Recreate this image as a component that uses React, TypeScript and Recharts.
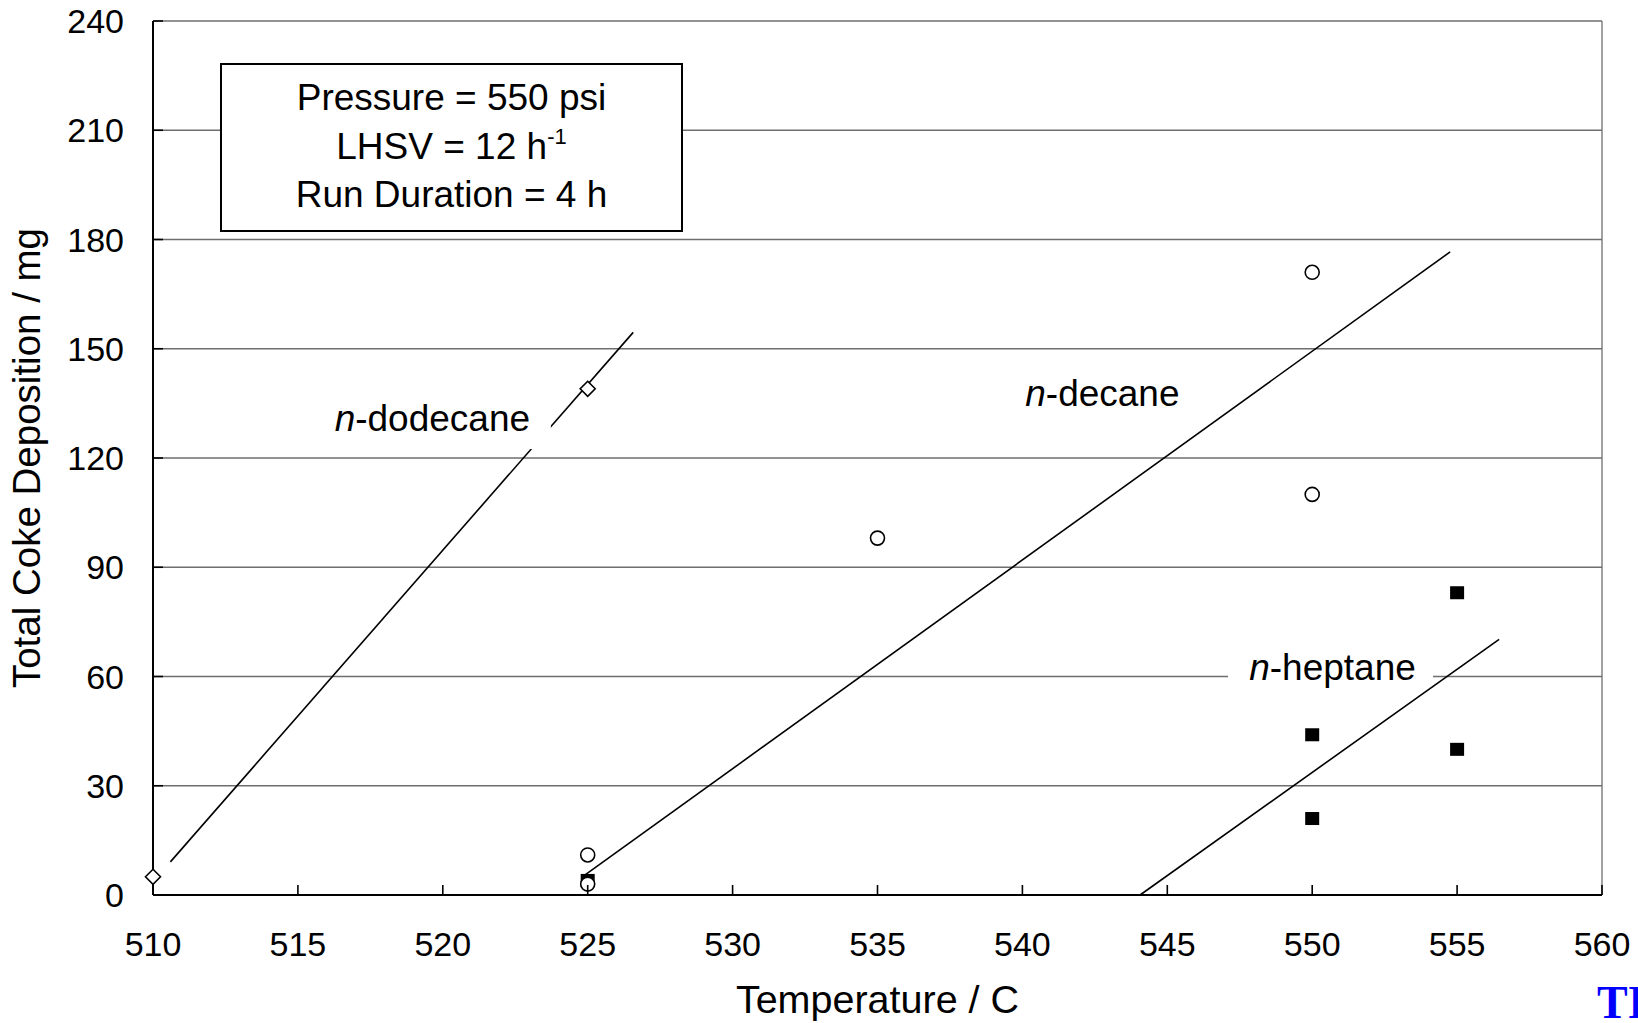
import React from 'react';
import { ScatterChart, Scatter, XAxis, YAxis, CartesianGrid, ReferenceLine } from 'recharts';

// ---- data ----
const xTicks = [510, 515, 520, 525, 530, 535, 540, 545, 550, 555, 560];
const yTicks = [0, 30, 60, 90, 120, 150, 180, 210, 240];

const dodecanePoints = [
  { x: 510, y: 5 },
  { x: 525, y: 139 },
];
const decanePoints = [
  { x: 525, y: 11 },
  { x: 525, y: 3 },
  { x: 535, y: 98 },
  { x: 550, y: 171 },
  { x: 550, y: 110 },
];
const heptanePoints = [
  { x: 525, y: 4 },
  { x: 550, y: 44 },
  { x: 550, y: 21 },
  { x: 555, y: 83 },
  { x: 555, y: 40 },
];

const dodecaneFit = [
  { x: 510.6, y: 9.1 },
  { x: 526.57, y: 154.5 },
];
const decaneFit = [
  { x: 524.91, y: 5.5 },
  { x: 554.76, y: 176.6 },
];
const heptaneFit = [
  { x: 544.06, y: 0 },
  { x: 556.45, y: 70.2 },
];

const seriesLabels = [
  { x: 519.64, y: 127.4, prefix: 'n', rest: '-dodecane', key: 'dodecane' },
  { x: 542.76, y: 134.3, prefix: 'n', rest: '-decane', key: 'decane' },
  { x: 550.7, y: 59.04, prefix: 'n', rest: '-heptane', key: 'heptane' },
];

const infoLines = ['Pressure = 550 psi', 'LHSV = 12 h', 'Run Duration = 4 h'];

// ---- styles ----
const FONT = '"Liberation Sans", Arial, sans-serif';
const GRID = '#6e6e6e';

// white background boxes behind labels (offsets from baseline-center)
const labelBg: Record<string, { x0: number; x1: number; y0: number; y1: number } | null> = {
  dodecane: { x0: -112, x1: 118.5, y0: -46, y1: 18 },
  decane: null,
  heptane: { x0: -104.5, x1: 100.5, y0: -38, y1: 2 },
};

const XTick = (props: any) => {
  const { x, y, payload } = props;
  return (
    <g>
      <line x1={x} y1={y} x2={x} y2={y - 10} stroke="#000" strokeWidth={1.6} />
      <text x={x} y={y + 61} textAnchor="middle" fontFamily={FONT} fontSize={34} fill="#000">
        {payload.value}
      </text>
    </g>
  );
};

const YTick = (props: any) => {
  const { x, y, payload } = props;
  return (
    <g>
      <line x1={x} y1={y} x2={x + 10} y2={y} stroke="#000" strokeWidth={1.6} />
      <text x={x - 29} y={y + 12} textAnchor="end" fontFamily={FONT} fontSize={34} fill="#000">
        {payload.value}
      </text>
    </g>
  );
};

const XTitle = (props: any) => {
  const vb = props.viewBox || { x: 153, y: 895, width: 1449, height: 128 };
  return (
    <text x={vb.x + vb.width / 2} y={vb.y + 118} textAnchor="middle" fontFamily={FONT} fontSize={39.5} fill="#000">
      Temperature / C
    </text>
  );
};

const YTitle = (props: any) => {
  const vb = props.viewBox || { x: 0, y: 21, width: 153, height: 874 };
  const cx = 40;
  const cy = vb.y + vb.height / 2;
  return (
    <text
      x={cx}
      y={cy}
      transform={`rotate(-90, ${cx}, ${cy})`}
      textAnchor="middle"
      fontFamily={FONT}
      fontSize={38.5}
      fill="#000"
    >
      Total Coke Deposition / mg
    </text>
  );
};

const Diamond = (props: any) => {
  const { cx, cy } = props;
  const r = 7.5;
  return (
    <path
      d={`M${cx},${cy - r} L${cx + r},${cy} L${cx},${cy + r} L${cx - r},${cy} Z`}
      fill="#fff"
      stroke="#000"
      strokeWidth={1.6}
    />
  );
};

const OpenCircle = (props: any) => {
  const { cx, cy } = props;
  return <circle cx={cx} cy={cy} r={7} fill="#fff" stroke="#000" strokeWidth={1.6} />;
};

const FilledSquare = (props: any) => {
  const { cx, cy } = props;
  return <rect x={cx - 7} y={cy - 6.5} width={14} height={13} fill="#000" />;
};

const NoDot = () => <g />;

const LabelShape = (props: any) => {
  const { cx, cy, payload } = props;
  const bg = labelBg[payload.key];
  return (
    <g>
      {bg && <rect x={cx + bg.x0} y={cy + bg.y0} width={bg.x1 - bg.x0} height={bg.y1 - bg.y0} fill="#fff" />}
      <text x={cx} y={cy} textAnchor="middle" fontFamily={FONT} fontSize={37} fill="#000">
        <tspan fontStyle="italic">{payload.prefix}</tspan>
        <tspan>{payload.rest}</tspan>
      </text>
    </g>
  );
};

export default function App() {
  return (
    <div
      style={{
        position: 'absolute',
        left: 0,
        top: 0,
        width: 1638,
        height: 1023,
        overflow: 'hidden',
        background: '#fff',
      }}
    >
      <ScatterChart width={1638} height={1023} margin={{ top: 21, right: 36, bottom: 0, left: 0 }}>
        <CartesianGrid horizontal vertical={false} stroke={GRID} strokeWidth={1.3} />
        <XAxis
          type="number"
          dataKey="x"
          domain={[510, 560]}
          ticks={xTicks}
          interval={0}
          height={128}
          axisLine={{ stroke: '#000', strokeWidth: 2 }}
          tickLine={false}
          tickSize={0}
          tickMargin={0}
          tick={<XTick />}
          label={<XTitle />}
        />
        <YAxis
          type="number"
          dataKey="y"
          domain={[0, 240]}
          ticks={yTicks}
          interval={0}
          width={153}
          axisLine={{ stroke: '#000', strokeWidth: 2 }}
          tickLine={false}
          tickSize={0}
          tickMargin={0}
          tick={<YTick />}
          label={<YTitle />}
        />
        <ReferenceLine x={560} stroke={GRID} strokeWidth={1.3} ifOverflow="visible" />
        <Scatter data={dodecaneFit} line={{ stroke: '#000', strokeWidth: 1.6 }} shape={<NoDot />} isAnimationActive={false} legendType="none" />
        <Scatter data={decaneFit} line={{ stroke: '#000', strokeWidth: 1.6 }} shape={<NoDot />} isAnimationActive={false} legendType="none" />
        <Scatter data={heptaneFit} line={{ stroke: '#000', strokeWidth: 1.6 }} shape={<NoDot />} isAnimationActive={false} legendType="none" />
        <Scatter data={seriesLabels} shape={<LabelShape />} isAnimationActive={false} legendType="none" />
        <Scatter data={heptanePoints} shape={<FilledSquare />} isAnimationActive={false} />
        <Scatter data={decanePoints} shape={<OpenCircle />} isAnimationActive={false} />
        <Scatter data={dodecanePoints} shape={<Diamond />} isAnimationActive={false} />
      </ScatterChart>

      <div
        style={{
          position: 'absolute',
          left: 220,
          top: 63,
          width: 463,
          height: 169,
          boxSizing: 'border-box',
          border: '2px solid #000',
          background: '#fff',
          fontFamily: FONT,
          fontSize: 37,
          color: '#000',
          textAlign: 'center',
        }}
      >
        {infoLines.map((t, i) => (
          <div
            key={i}
            style={{ position: 'absolute', left: 0, right: 0, top: 9 + i * 48.5, height: 48, lineHeight: '48px' }}
          >
            {t}
            {i === 1 && <sup style={{ fontSize: 22, verticalAlign: 'baseline', position: 'relative', top: -15 }}>-1</sup>}
          </div>
        ))}
      </div>

      <div
        style={{
          position: 'absolute',
          left: 1597,
          top: 978,
          fontFamily: '"Liberation Serif", "Times New Roman", serif',
          fontWeight: 'bold',
          fontSize: 46,
          lineHeight: '50px',
          color: '#0000ff',
          whiteSpace: 'nowrap',
        }}
      >
        TI
      </div>
    </div>
  );
}
